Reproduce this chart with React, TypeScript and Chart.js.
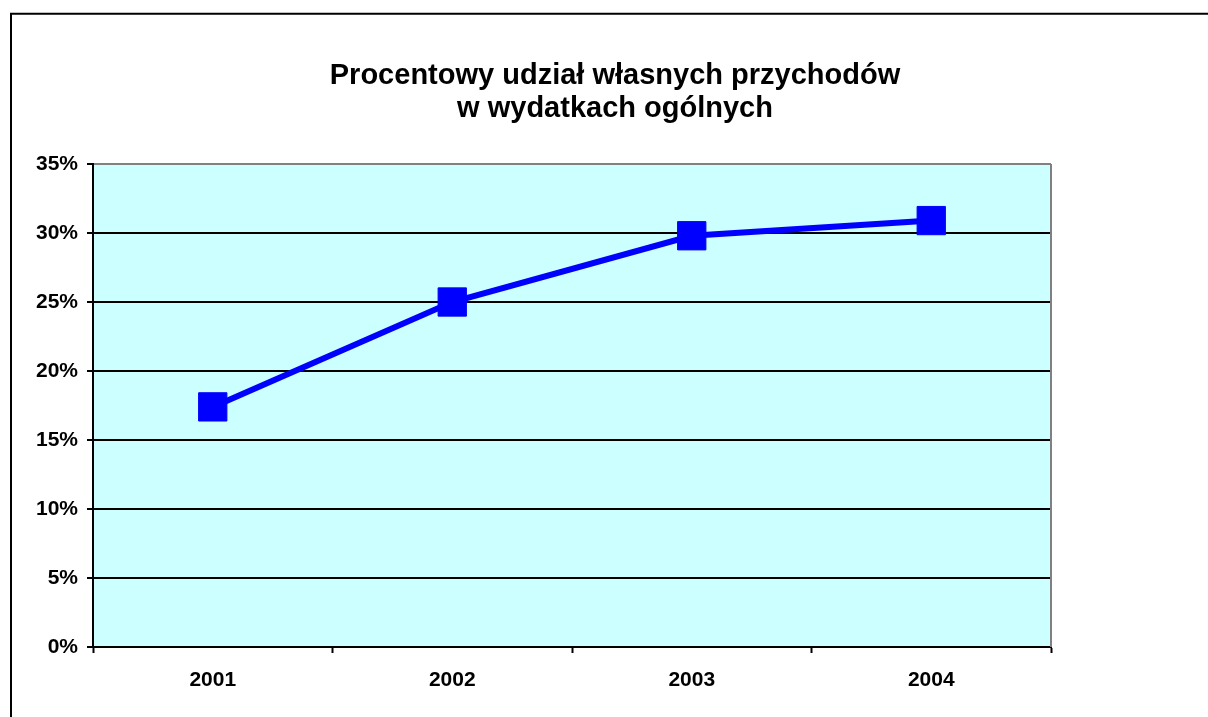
import { useEffect, useRef } from "react";
import { Chart, registerables } from "chart.js";

Chart.register(...registerables);

const years = ["2001", "2002", "2003", "2004"];
const ownRevenueShare = [17.4, 25.0, 29.8, 30.9];
const yMin = 0;
const yMax = 35;
const yStep = 5;
const titleLines = ["Procentowy udział własnych przychodów", "w wydatkach ogólnych"];

const FONT = '"Liberation Sans", Arial, Helvetica, sans-serif';

export default function App() {
  const ref = useRef<HTMLCanvasElement>(null);

  useEffect(() => {
    if (!ref.current) return;

    const frame = {
      id: "frame",
      beforeDraw(chart: any) {
        const { ctx, chartArea: a } = chart;
        ctx.save();
        ctx.fillStyle = "#ffffff";
        ctx.fillRect(0, 0, chart.width, chart.height);
        ctx.strokeStyle = "#000000";
        ctx.lineWidth = 2;
        ctx.beginPath();
        ctx.moveTo(11, chart.height);
        ctx.lineTo(11, 13.7);
        ctx.lineTo(chart.width, 13.7);
        ctx.stroke();
        ctx.fillStyle = "#CCFFFF";
        ctx.fillRect(a.left, a.top, a.right - a.left, a.bottom - a.top);
        ctx.fillStyle = "#000000";
        ctx.font = `bold 29px ${FONT}`;
        ctx.textAlign = "center";
        ctx.textBaseline = "alphabetic";
        ctx.fillText(titleLines[0], 615, 83.5);
        ctx.fillText(titleLines[1], 615, 117);
        ctx.restore();
      },
      beforeDatasetsDraw(chart: any) {
        const { ctx, chartArea: a } = chart;
        ctx.save();
        ctx.strokeStyle = "#808080";
        ctx.lineWidth = 2;
        ctx.beginPath();
        ctx.moveTo(a.right, a.top);
        ctx.lineTo(a.right, a.bottom);
        ctx.stroke();
        ctx.restore();
      },
    };

    const chart = new Chart(ref.current, {
      type: "line",
      data: {
        labels: years,
        datasets: [
          {
            data: ownRevenueShare,
            borderColor: "#0000FF",
            backgroundColor: "#0000FF",
            borderWidth: 6,
            tension: 0,
            pointStyle: "rect",
            pointRadius: 20,
            pointBorderWidth: 1,
            pointBackgroundColor: "#0000FF",
            pointBorderColor: "#0000FF",
            clip: false as any,
          },
        ],
      },
      options: {
        responsive: false,
        animation: false,
        devicePixelRatio: 1,
        layout: { padding: { top: 164, right: 157, bottom: 0, left: 0 } },
        plugins: {
          legend: { display: false },
          tooltip: { enabled: false },
          title: { display: false },
        },
        scales: {
          x: {
            type: "category",
            offset: true,
            grid: {
              offset: true,
              drawOnChartArea: false,
              tickLength: 6,
              tickColor: "#000000",
              tickWidth: 2,
            },
            border: { color: "#000000", width: 2 },
            ticks: {
              color: "#000000",
              font: { family: FONT, size: 21, weight: "bold" },
              padding: 15,
              maxRotation: 0,
            },
            afterFit(s: any) {
              s.height = 70;
              s.paddingLeft = 0;
              s.paddingRight = 0;
            },
          },
          y: {
            min: yMin,
            max: yMax,
            ticks: {
              stepSize: yStep,
              color: "#000000",
              font: { family: FONT, size: 21, weight: "bold" },
              padding: 9,
              callback: (v: any) => `${v}%`,
            },
            grid: {
              color: (c: any) => (c.tick && c.tick.value === yMax ? "#808080" : "#000000"),
              lineWidth: 2,
              tickLength: 6,
              tickColor: "#000000",
              tickWidth: 2,
            },
            border: { color: "#000000", width: 2 },
            afterFit(s: any) {
              s.width = 93;
              s.paddingTop = 0;
              s.paddingBottom = 0;
            },
          },
        },
      },
      plugins: [frame],
    });

    return () => chart.destroy();
  }, []);

  return (
    <div style={{ position: "fixed", left: 0, top: 0, width: 1208, height: 717 }}>
      <canvas ref={ref} width={1208} height={717} style={{ display: "block" }} />
    </div>
  );
}
